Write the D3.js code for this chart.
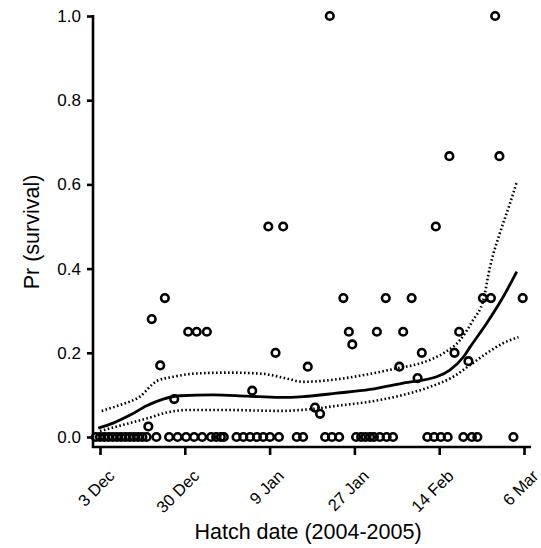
<!DOCTYPE html>
<html>
<head>
<meta charset="utf-8">
<script src="https://cdn.jsdelivr.net/npm/d3@7"></script>
<style>
  body { margin: 0; background: #fff; }
  text { font-family: "Liberation Sans", Arial, sans-serif; fill: #000; }
</style>
</head>
<body>
<svg id="chart" width="541" height="548"></svg>
<script>
// Jours depuis le 3 déc (axe x) et probabilités observées
const obsDay = [
  -1, 0, 1, 2, 3, 4, 5, 6, 7, 8, 9, 10, 11, 13.3, 16.3, 18.3, 20.3, 22.2, 24.1,
  26.2, 27.4, 28.5, 29.2, 32.2, 33.8, 35.4, 37, 38.5, 40.1, 42.2, 46.4, 47.9,
  53.1, 54.7, 56.4, 60.4, 61.6, 62.6, 63.7, 64.6, 66, 67.6, 69.1, 77.2, 78.8,
  80.4, 82, 85.7, 87.7, 89, 97.5,
  11.4, 12.2, 14.2, 15.3, 17.5, 20.8, 22.8, 25.2, 35.9, 39.7, 41.4, 43.2, 49,
  50.7, 51.9, 54.2, 57.4, 58.7, 59.5, 65.3, 67.4, 70.6, 71.5, 73.5, 74.9, 75.9,
  79.2, 82.4, 83.6, 84.7, 86.9, 90.3, 92.2, 93.2, 94.2, 99.7
];
const obsSurv = [
  0, 0, 0, 0, 0, 0, 0, 0, 0, 0, 0, 0, 0, 0, 0, 0, 0, 0, 0,
  0, 0, 0, 0, 0, 0, 0, 0, 0, 0, 0, 0, 0,
  0, 0, 0, 0, 0, 0, 0, 0, 0, 0, 0, 0, 0,
  0, 0, 0, 0, 0, 0,
  0.025, 0.28, 0.17, 0.33, 0.09, 0.25, 0.25, 0.25, 0.11, 0.5, 0.2, 0.5, 0.167,
  0.07, 0.055, 1, 0.33, 0.25, 0.22, 0.25, 0.33, 0.167, 0.25, 0.33, 0.14, 0.2,
  0.5, 0.667, 0.2, 0.25, 0.18, 0.33, 0.33, 1, 0.667, 0.33
];

// Courbe ajustée et intervalle de confiance
const fitDay = [-0.4, 3.1, 7.1, 11, 14.9, 18.9, 26.7, 34.6, 42.5, 48, 55.8, 63.7, 71.5, 79.4, 82.5, 85.7, 87.3, 91.2, 95.1, 98.3];
const fitMean = [0.021, 0.033, 0.052, 0.074, 0.09, 0.098, 0.1, 0.097, 0.094, 0.096, 0.104, 0.113, 0.128, 0.143, 0.159, 0.19, 0.214, 0.27, 0.333, 0.393];

const upDay = [0.4, 4.7, 9.4, 13.4, 17.3, 22.8, 30.7, 38.5, 44, 47.9, 55.8, 63.7, 70, 75.5, 81, 84.9, 88, 90.4, 92, 94.3, 96.7, 98.3];
const upVal = [0.062, 0.076, 0.096, 0.133, 0.143, 0.151, 0.153, 0.15, 0.139, 0.131, 0.137, 0.15, 0.163, 0.175, 0.199, 0.23, 0.278, 0.325, 0.405, 0.484, 0.555, 0.606];

const loDay = [0, 5.5, 11, 15.7, 20.4, 30.7, 42.5, 49.5, 55.8, 63.7, 71.5, 77.8, 83.3, 87.3, 91.2, 95.1, 98.7];
const loVal = [0.014, 0.029, 0.044, 0.058, 0.064, 0.064, 0.062, 0.066, 0.074, 0.084, 0.1, 0.119, 0.143, 0.171, 0.199, 0.223, 0.237];

const xTicks = [0, 20, 40, 60, 80, 100];
const xTickLabels = ["3 Dec", "30 Dec", "9 Jan", "27 Jan", "14 Feb", "6 Mar"];
const yTicks = [0, 0.2, 0.4, 0.6, 0.8, 1.0];

const svg = d3.select("#chart");

const x = d3.scaleLinear().domain([0, 100]).range([100, 524]);
const y = d3.scaleLinear().domain([0, 1]).range([437, 16]);

const axisY = 447;   // position de l'axe x
const axisX = 93;    // position de l'axe y

// Axe y
const gy = svg.append("g")
    .attr("transform", `translate(${axisX},0)`)
    .call(d3.axisLeft(y).tickValues(yTicks).tickFormat(d3.format(".1f")).tickSize(6).tickPadding(6));
gy.select(".domain").remove();
gy.selectAll(".tick line").attr("stroke", "#000").attr("stroke-width", 2.6);
gy.selectAll(".tick text").attr("font-size", 17).attr("fill", "#000");
gy.append("line")
    .attr("x1", 0).attr("x2", 0)
    .attr("y1", y(1) - 1).attr("y2", axisY + 1)
    .attr("stroke", "#000").attr("stroke-width", 2.6);

// Axe x
const gx = svg.append("g")
    .attr("transform", `translate(0,${axisY})`)
    .call(d3.axisBottom(x).tickValues(xTicks).tickFormat((d, i) => xTickLabels[i]).tickSize(8));
gx.select(".domain").remove();
gx.selectAll(".tick line").attr("stroke", "#000").attr("stroke-width", 2.6);
gx.selectAll(".tick text")
    .attr("font-size", 16.5)
    .attr("fill", "#000")
    .attr("text-anchor", "end")
    .attr("y", 0).attr("dy", 0)
    .attr("transform", "translate(15,30) rotate(-45)");
gx.append("line")
    .attr("x1", axisX - 1).attr("x2", 531)
    .attr("y1", 0).attr("y2", 0)
    .attr("stroke", "#000").attr("stroke-width", 2.6);

// Titres des axes
svg.append("text")
    .attr("x", 308).attr("y", 539)
    .attr("text-anchor", "middle")
    .attr("font-size", 21.5)
    .text("Hatch date (2004-2005)");

svg.append("text")
    .attr("transform", "translate(39,232) rotate(-90)")
    .attr("text-anchor", "middle")
    .attr("font-size", 21.5)
    .text("Pr (survival)");

// Courbes
const line = d3.line().curve(d3.curveMonotoneX);

svg.append("path")
    .attr("d", line(upDay.map((d, i) => [x(d), y(upVal[i])])))
    .attr("fill", "none").attr("stroke", "#000")
    .attr("stroke-width", 2.6).attr("stroke-dasharray", "1.6,2.4");

svg.append("path")
    .attr("d", line(loDay.map((d, i) => [x(d), y(loVal[i])])))
    .attr("fill", "none").attr("stroke", "#000")
    .attr("stroke-width", 2.6).attr("stroke-dasharray", "1.6,2.4");

svg.append("path")
    .attr("d", line(fitDay.map((d, i) => [x(d), y(fitMean[i])])))
    .attr("fill", "none").attr("stroke", "#000")
    .attr("stroke-width", 2.8);

// Points observés
svg.append("g")
    .selectAll("circle")
    .data(obsDay.map((d, i) => ({ day: d, p: obsSurv[i] })))
    .join("circle")
    .attr("cx", d => x(d.day))
    .attr("cy", d => y(d.p))
    .attr("r", 3.8)
    .attr("fill", "none")
    .attr("stroke", "#000")
    .attr("stroke-width", 2.6);
</script>
</body>
</html>
